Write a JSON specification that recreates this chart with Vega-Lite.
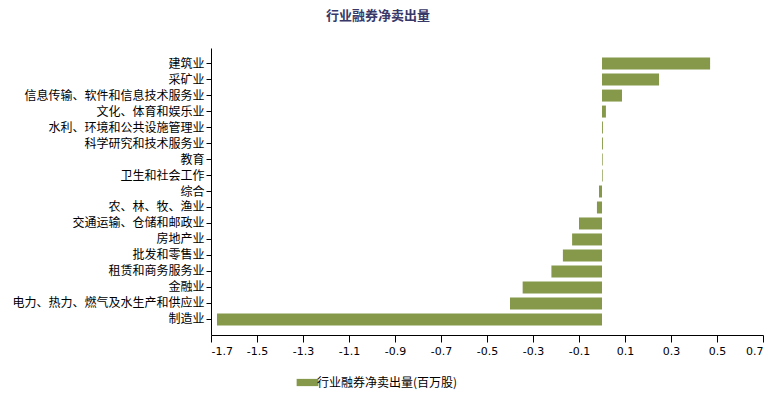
{
  "$schema": "https://vega.github.io/schema/vega-lite/v6.json",
  "autosize": {"type": "none"},
  "width": 552,
  "height": 287,
  "padding": {"left": 211, "top": 48, "right": 14, "bottom": 64},
  "background": "white",
  "title": {
    "text": "行业融券净卖出量",
    "anchor": "middle",
    "frame": "group",
    "dx": -109,
    "offset": 25,
    "font": "Noto Sans CJK SC",
    "fontSize": 13,
    "fontWeight": "bold",
    "color": "#383868"
  },
  "data": {
    "values": [
      {"industry": "建筑业", "value": 0.47, "series": "行业融券净卖出量(百万股)"},
      {"industry": "采矿业", "value": 0.248, "series": "行业融券净卖出量(百万股)"},
      {"industry": "信息传输、软件和信息技术服务业", "value": 0.087, "series": "行业融券净卖出量(百万股)"},
      {"industry": "文化、体育和娱乐业", "value": 0.017, "series": "行业融券净卖出量(百万股)"},
      {"industry": "水利、环境和公共设施管理业", "value": 0.004, "series": "行业融券净卖出量(百万股)"},
      {"industry": "科学研究和技术服务业", "value": 0.004, "series": "行业融券净卖出量(百万股)"},
      {"industry": "教育", "value": 0.003, "series": "行业融券净卖出量(百万股)"},
      {"industry": "卫生和社会工作", "value": 0.003, "series": "行业融券净卖出量(百万股)"},
      {"industry": "综合", "value": -0.013, "series": "行业融券净卖出量(百万股)"},
      {"industry": "农、林、牧、渔业", "value": -0.022, "series": "行业融券净卖出量(百万股)"},
      {"industry": "交通运输、仓储和邮政业", "value": -0.1, "series": "行业融券净卖出量(百万股)"},
      {"industry": "房地产业", "value": -0.13, "series": "行业融券净卖出量(百万股)"},
      {"industry": "批发和零售业", "value": -0.17, "series": "行业融券净卖出量(百万股)"},
      {"industry": "租赁和商务服务业", "value": -0.22, "series": "行业融券净卖出量(百万股)"},
      {"industry": "金融业", "value": -0.345, "series": "行业融券净卖出量(百万股)"},
      {"industry": "电力、热力、燃气及水生产和供应业", "value": -0.40, "series": "行业融券净卖出量(百万股)"},
      {"industry": "制造业", "value": -1.674, "series": "行业融券净卖出量(百万股)"}
    ]
  },
  "mark": {"type": "bar"},
  "encoding": {
    "y": {
      "field": "industry",
      "type": "nominal",
      "sort": null,
      "scale": {"paddingInner": 0.25, "paddingOuter": 0.6},
      "axis": {
        "title": null,
        "domainColor": "#000000",
        "tickColor": "#000000",
        "tickSize": 5,
        "labelPadding": 2,
        "labelLimit": 0,
        "labelFont": "Noto Sans CJK SC",
        "labelFontSize": 12,
        "labelColor": "#000000",
        "grid": false
      }
    },
    "x": {
      "field": "value",
      "type": "quantitative",
      "scale": {"domain": [-1.7, 0.7], "nice": false, "zero": false},
      "axis": {
        "title": null,
        "values": [-1.7, -1.5, -1.3, -1.1, -0.9, -0.7, -0.5, -0.3, -0.1, 0.1, 0.3, 0.5, 0.7],
        "labelExpr": "replace(format(datum.value, '.1f'), '−', '-')",
        "grid": false,
        "domainColor": "#000000",
        "tickColor": "#000000",
        "tickSize": 7,
        "labelFont": "DejaVu Sans",
        "labelFontSize": 11,
        "labelColor": "#000000",
        "labelPadding": 3
      }
    },
    "color": {
      "field": "series",
      "type": "nominal",
      "scale": {"range": ["#86994a"]},
      "legend": {
        "title": null,
        "orient": "none",
        "legendX": 89,
        "legendY": 327,
        "symbolType": "M-1.5,-0.5H1.5V0.5H-1.5Z",
        "symbolSize": 210,
        "symbolStrokeWidth": 0,
        "labelFont": "Noto Sans CJK SC",
        "labelFontSize": 12,
        "labelColor": "#000000",
        "labelOffset": 2
      }
    }
  },
  "config": {"view": {"stroke": null}}
}
